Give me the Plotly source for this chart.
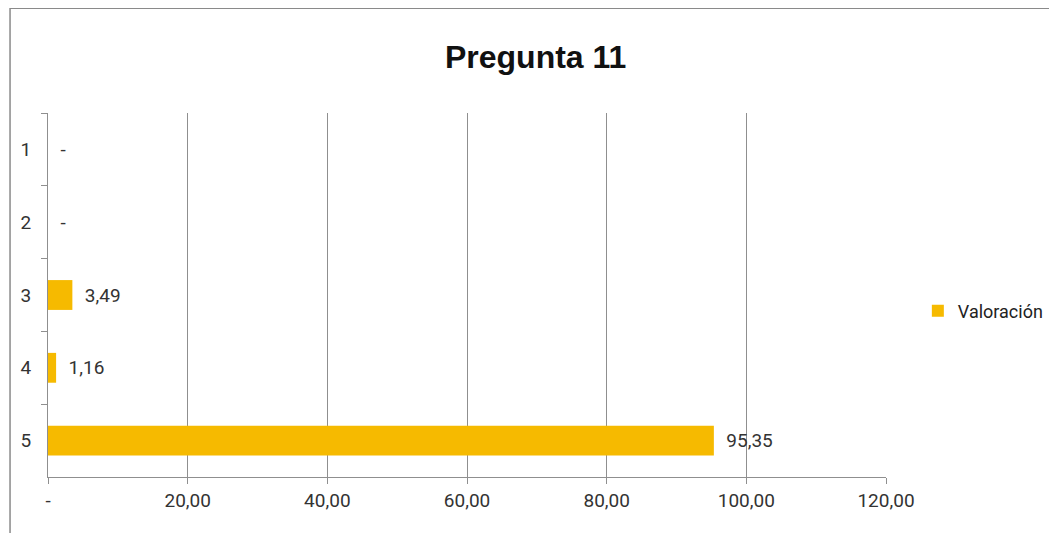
import plotly.graph_objects as go

categories = ["1", "2", "3", "4", "5"]
values = [0, 0, 3.49, 1.16, 95.35]
x_tickvals = [0, 20, 40, 60, 80, 100, 120]
x_ticktext = ["-", "20,00", "40,00", "60,00", "80,00", "100,00", "120,00"]
series_name = "Valoración"
title_text = "Pregunta 11"

def fmt(v):
    return "-" if v == 0 else f"{v:.2f}".replace(".", ",")

labels = ["  " + fmt(v) for v in values]

FONT = "Roboto"
BAR = "#F6BA00"
GRID = "#8f8f8f"
TXT = "#333333"

def f(size, color=TXT):
    return dict(family=FONT, size=size, color=color)

fig = go.Figure()
fig.add_trace(go.Bar(
    y=categories, x=values, orientation="h", name=series_name,
    marker=dict(color=BAR, line=dict(width=0)),
    width=0.41,
    text=labels, textposition="outside", cliponaxis=False,
    textfont=f(19),
))

fig.update_layout(
    width=1049, height=525,
    margin=dict(l=40, r=171, t=105, b=56, autoexpand=False),
    paper_bgcolor="white", plot_bgcolor="white",
    title=dict(text="<b>" + title_text + "</b>", x=0.503, xanchor="center",
               y=0.907, yanchor="middle",
               font=dict(family="Liberation Sans, Arial, sans-serif", size=32, color="#111111")),
    showlegend=True,
    legend=dict(x=1.038, xanchor="left", y=0.456, yanchor="middle",
                font=f(18, "#222222"),
                itemwidth=30, bgcolor="rgba(0,0,0,0)"),
    xaxis=dict(range=[0, 120], tickvals=x_tickvals, ticktext=x_ticktext,
               showgrid=True, gridcolor=GRID, gridwidth=1,
               showline=True, linecolor=GRID, linewidth=1,
               ticks="outside", ticklen=6, tickcolor=GRID,
               tickfont=f(19), automargin=False,
               zeroline=False, fixedrange=True),
    yaxis=dict(autorange="reversed", type="category",
               showgrid=False, showline=True, linecolor=GRID, linewidth=1,
               ticks="outside", ticklen=6, tickcolor=GRID, tickson="boundaries",
               tickfont=f(19), automargin=False,
               ticklabelstandoff=12, zeroline=False),
    bargap=0.59,
)

fig.add_shape(type="rect", xref="paper", yref="paper",
              x0=-0.0453, x1=1.5, y0=-0.5, y1=1.288,
              line=dict(color="#8a8a8a", width=1.5), fillcolor="rgba(0,0,0,0)",
              layer="below")

fig.write_html("out.html")
